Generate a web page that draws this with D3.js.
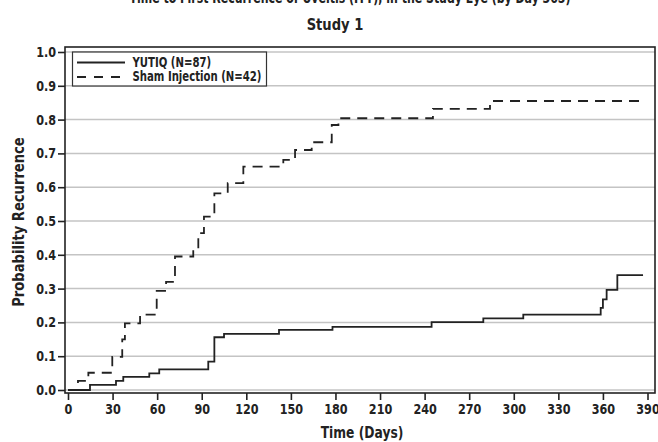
<!DOCTYPE html>
<html>
<head>
<meta charset="utf-8">
<script src="https://cdn.jsdelivr.net/npm/d3@7"></script>
<style>
  body { margin: 0; background: #fff; }
  svg text { font-family: "DejaVu Sans", sans-serif; font-weight: bold; fill: #222; }
</style>
</head>
<body>
<script>
// YUTIQ arm: time of each step (days) and cumulative probability of recurrence
var yutiqDays = [0, 14.8, 32.3, 37.2, 54.7, 61.4, 94.4, 98.5, 105, 142, 178, 244.7, 279.5, 306.4, 358.5, 360, 362.5, 369.7, 387];
var yutiqProb = [0, 0.015, 0.027, 0.039, 0.049, 0.061, 0.084, 0.156, 0.166, 0.178, 0.187, 0.201, 0.212, 0.223, 0.243, 0.268, 0.296, 0.34, 0.34];

// Sham injection arm
var shamDays = [0, 6.7, 13.7, 29.8, 36.5, 38.3, 48.5, 59.7, 66, 72, 84.3, 87.7, 91.5, 98.5, 107.5, 118, 144.9, 152.8, 164, 177.5, 182, 245.6, 284, 385];
var shamProb = [0, 0.027, 0.051, 0.098, 0.15, 0.197, 0.223, 0.293, 0.32, 0.395, 0.414, 0.464, 0.513, 0.582, 0.612, 0.661, 0.681, 0.71, 0.733, 0.784, 0.804, 0.832, 0.855, 0.855];

var xTicks = [0, 30, 60, 90, 120, 150, 180, 210, 240, 270, 300, 330, 360, 390];
var yTicks = [0, 0.1, 0.2, 0.3, 0.4, 0.5, 0.6, 0.7, 0.8, 0.9, 1.0];
var legendLabels = ["YUTIQ (N=87)", "Sham Injection (N=42)"];

var width = 658,
    height = 442;

var frame = {left: 65, right: 655, top: 47, bottom: 393};

var x = d3.scaleLinear().domain([0, 390]).range([68, 647.5]);
var y = d3.scaleLinear().domain([0, 1]).range([390, 52]);

var svg = d3.select("body").append("svg")
    .attr("width", width)
    .attr("height", height);

// no condensed font installed, so squeeze glyphs horizontally
function squeeze(sel, k) {
  sel.each(function() {
    var t = d3.select(this);
    var x0 = +t.attr("x") || 0;
    t.attr("x", 0).attr("transform", "translate(" + x0 + ",0) scale(" + k + ",1)");
  });
}

// titles (first line is clipped at the top in the original)
svg.append("text")
    .attr("x", 350).attr("y", 3)
    .attr("text-anchor", "middle")
    .attr("textLength", 441)
    .attr("lengthAdjust", "spacingAndGlyphs")
    .style("font-size", "16px")
    .text("Time to First Recurrence of Uveitis (ITT), in the Study Eye (by Day 365)");

svg.append("text")
    .attr("x", 335).attr("y", 30)
    .attr("text-anchor", "middle")
    .style("font-size", "16px")
    .text("Study 1")
    .call(squeeze, 0.82);

// gridlines
svg.append("g").selectAll("line")
    .data(yTicks)
  .enter().append("line")
    .attr("x1", frame.left).attr("x2", frame.right)
    .attr("y1", function(d) { return y(d); })
    .attr("y2", function(d) { return y(d); })
    .attr("stroke", "#c4c4c4")
    .attr("stroke-width", 1.5);

// frame
svg.append("rect")
    .attr("x", frame.left).attr("y", frame.top)
    .attr("width", frame.right - frame.left)
    .attr("height", frame.bottom - frame.top)
    .attr("fill", "none")
    .attr("stroke", "#222")
    .attr("stroke-width", 1.6);

// axes
var xAxis = d3.axisBottom(x).tickValues(xTicks).tickSize(7).tickSizeOuter(0).tickPadding(4);
var gx = svg.append("g")
    .attr("transform", "translate(0," + frame.bottom + ")")
    .call(xAxis);
gx.select(".domain").remove();

var yAxis = d3.axisLeft(y).tickValues(yTicks).tickFormat(d3.format(".1f")).tickSize(7).tickSizeOuter(0).tickPadding(2);
var gy = svg.append("g")
    .attr("transform", "translate(" + frame.left + ",0)")
    .call(yAxis);
gy.select(".domain").remove();

svg.selectAll(".tick line").attr("stroke", "#222").attr("stroke-width", 1.6);
svg.selectAll(".tick text")
    .attr("font-family", null)
    .attr("font-size", null)
    .style("font-size", "14px")
    .attr("fill", "#222")
    .call(squeeze, 0.8);

svg.append("text")
    .attr("x", 362).attr("y", 438)
    .attr("text-anchor", "middle")
    .style("font-size", "15px")
    .text("Time (Days)")
    .call(squeeze, 0.82);

svg.append("g")
    .attr("transform", "translate(24,222) rotate(-90)")
  .append("text")
    .attr("text-anchor", "middle")
    .style("font-size", "16px")
    .text("Probability Recurrence")
    .call(squeeze, 0.82);

// curves
var line = d3.line()
    .x(function(d) { return x(d[0]); })
    .y(function(d) { return y(d[1]); })
    .curve(d3.curveStepAfter);

var yutiq = d3.zip(yutiqDays, yutiqProb);
var sham = d3.zip(shamDays, shamProb);

svg.append("path")
    .datum(sham)
    .attr("d", line)
    .attr("fill", "none")
    .attr("stroke", "#222")
    .attr("stroke-width", 1.8)
    .attr("stroke-dasharray", "10,7");

svg.append("path")
    .datum(yutiq)
    .attr("d", line)
    .attr("fill", "none")
    .attr("stroke", "#222")
    .attr("stroke-width", 1.8);

// legend
var legend = svg.append("g");
legend.append("rect")
    .attr("x", 72.5).attr("y", 52)
    .attr("width", 194).attr("height", 34)
    .attr("fill", "#fff")
    .attr("stroke", "#333")
    .attr("stroke-width", 1.2);

legendLabels.forEach(function(label, i) {
  var ly = 62.5 + i * 14.5;
  legend.append("line")
      .attr("x1", 77).attr("x2", 125)
      .attr("y1", ly).attr("y2", ly)
      .attr("stroke", "#222")
      .attr("stroke-width", 1.8)
      .attr("stroke-dasharray", i === 1 ? "9,8" : null);
  legend.append("text")
      .attr("x", 132.5).attr("y", ly + 4.5)
      .style("font-size", "13.5px")
      .text(label)
      .call(squeeze, 0.75);
});
</script>
</body>
</html>
